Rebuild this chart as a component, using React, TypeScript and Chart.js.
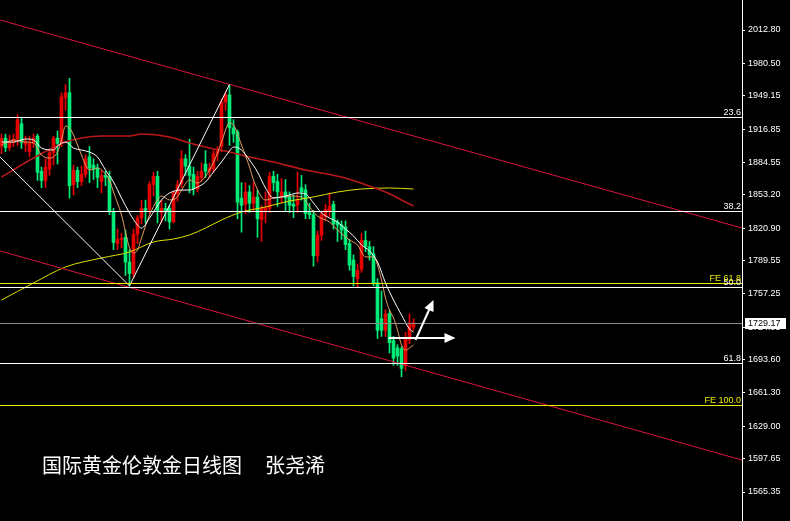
import React, { useEffect, useRef } from "react";
import { Chart, registerables } from "chart.js";
Chart.register(...registerables);

// ---- value range of the price axis ----
const Y_MIN = 1537.27;
const Y_MAX = 2041.86;
const X_MIN = -0.375;
const X_MAX = 185.125;

// ---- daily candles (XAUUSD) ----
const opens = [1900,1908,1899,1904,1907,1922,1902,1895,1903,1910,1876,1867,1878,1894,1908,1903,1947,1952,1863,1877,1866,1873,1890,1882,1879,1866,1872,1871,1837,1806,1810,1812,1788,1777,1815,1831,1840,1839,1863,1871,1836,1840,1840,1827,1854,1864,1888,1881,1873,1859,1870,1883,1876,1878,1893,1900,1943,1950,1918,1914,1850,1844,1856,1845,1851,1829,1838,1840,1871,1866,1852,1856,1851,1844,1843,1860,1858,1836,1834,1794,1814,1832,1838,1844,1827,1824,1822,1806,1790,1772,1781,1809,1803,1796,1768,1733,1722,1738,1712,1705,1704,1688,1713,1725];
const highs = [1912,1912,1911,1912,1931,1928,1910,1910,1912,1912,1880,1888,1897,1910,1915,1952,1960,1966,1882,1880,1881,1892,1900,1888,1883,1877,1876,1876,1840,1820,1816,1819,1800,1820,1833,1848,1848,1866,1875,1876,1848,1845,1843,1857,1867,1896,1892,1907,1880,1876,1884,1896,1884,1896,1900,1946,1953,1960,1926,1916,1865,1865,1862,1865,1858,1843,1856,1875,1876,1873,1869,1868,1856,1853,1875,1872,1863,1845,1838,1818,1837,1844,1855,1847,1829,1828,1828,1810,1795,1786,1816,1818,1808,1803,1772,1760,1742,1741,1716,1708,1706,1720,1738,1733];
const lows = [1893,1895,1896,1900,1901,1898,1895,1890,1899,1867,1860,1860,1872,1882,1883,1900,1935,1850,1853,1860,1862,1870,1865,1868,1860,1855,1862,1834,1800,1800,1802,1775,1765,1773,1806,1825,1826,1835,1852,1826,1826,1828,1820,1826,1847,1860,1872,1855,1853,1856,1866,1870,1870,1875,1886,1895,1935,1901,1904,1830,1817,1835,1836,1837,1812,1808,1826,1836,1857,1842,1846,1838,1836,1831,1836,1848,1830,1830,1784,1788,1809,1828,1832,1820,1808,1810,1800,1780,1765,1763,1778,1798,1790,1765,1714,1716,1716,1700,1688,1688,1677,1683,1709,1722];
const closes = [1908,1899,1904,1907,1926,1904,1905,1903,1908,1875,1867,1880,1894,1908,1903,1948,1952,1862,1877,1866,1873,1888,1879,1878,1870,1872,1870,1837,1807,1810,1811,1788,1777,1815,1831,1840,1838,1863,1871,1838,1840,1838,1827,1855,1863,1888,1881,1872,1859,1871,1876,1876,1879,1893,1896,1943,1950,1918,1912,1846,1843,1856,1845,1851,1830,1840,1841,1871,1865,1856,1856,1850,1843,1842,1848,1856,1835,1834,1794,1814,1834,1839,1842,1825,1824,1819,1805,1785,1774,1780,1809,1803,1795,1768,1722,1722,1738,1710,1695,1697,1685,1715,1729,1729.17];

// ---- moving averages ----
const ma5Idx = [0,3,6,8,10,12,14,15,16,17,18,19,20,21,22,24,26,27,28,30,31,32,33,34,35,37,39,40,42,44,45,47,49,50,52,54,55,57,58,60,62,63,65,66,68,70,72,75,77,79,82,84,87,89,91,93,95,96,97,98,99,100,101,102,103];
const ma5Val = [1901.4,1906.3,1904.3,1903.4,1891.7,1888.8,1894.6,1906.3,1919.8,1917.9,1911.1,1901.4,1891.7,1882.1,1877.2,1879.2,1873.3,1867.5,1855.9,1833.6,1817.2,1801.7,1796.8,1799.7,1811.4,1833.6,1848.2,1852.0,1848.2,1851.1,1857.8,1867.5,1864.6,1866.6,1877.2,1893.7,1904.3,1922.7,1920.8,1901.4,1880.1,1867.5,1851.1,1848.2,1850.1,1851.1,1852.0,1851.1,1841.4,1832.7,1826.8,1819.1,1809.4,1804.6,1793.0,1793.0,1770.7,1753.2,1741.6,1733.9,1722.3,1707.7,1702.9,1704.8,1707.7];
const ma10Idx = [0,3,6,8,10,13,14,16,18,20,22,24,26,28,30,32,34,35,37,40,42,45,47,49,51,53,55,57,58,60,62,64,66,68,70,72,74,76,78,80,82,84,86,88,90,92,94,96,98,100,102,103];
const ma10Val = [1904.3,1904.3,1907.2,1906.3,1898.5,1896.6,1900.5,1904.3,1898.5,1896.6,1894.6,1889.8,1877.2,1865.6,1850.1,1835.6,1823.9,1821.0,1830.7,1848.2,1854.9,1857.8,1857.8,1860.7,1865.6,1875.3,1885.0,1895.6,1899.5,1896.6,1886.9,1875.3,1859.8,1850.1,1851.1,1853.0,1854.9,1854.0,1845.3,1835.6,1830.7,1826.8,1820.1,1813.3,1804.6,1798.8,1788.1,1767.8,1751.3,1736.8,1723.2,1720.3];
const maRedIdx = [0,8,16,20,25,32,35,42,47,52,57,62,68,76,85,92,96,100,103];
const maRedVal = [1870.4,1888.8,1904.3,1908.2,1910.1,1910.1,1912.1,1909.2,1903.4,1898.5,1894.6,1889.8,1885.0,1877.2,1870.4,1861.7,1855.9,1848.2,1842.4];
const maYelIdx = [0,8,16,25,32,38,43,47,51,55,60,66,72,78,84,90,97,103];
const maYelVal = [1751.3,1767.8,1783.3,1792.0,1797.8,1807.5,1810.4,1814.3,1821.0,1828.8,1836.5,1841.4,1847.2,1851.1,1855.9,1858.8,1859.8,1858.8];

// ---- zigzag & channel lines ----
const zigIdx = [-0.375, 32, 57];
const zigVal = [1889.8, 1765, 1960];
const chanIdx = [-0.375, 185.125];
const chanUpperVal = [2022.5, 1821.0];
const chanLowerVal = [1798.8, 1596.3];

// ---- horizontal levels ----
const levelPrices = [1928.3, 1837.5, 1764.2, 1767.5, 1690.0, 1649.6, 1729.17];
const levelLabels = ["23.6", "38.2", "50.0", "FE 61.8", "61.8", "FE 100.0", ""];
const levelColors = ["#ffffff", "#ffffff", "#ffffff", "#ecec00", "#ffffff", "#ecec00", "#8c8c8c"];

// ---- axis ticks ----
const yTickValues = [2045.10, 2012.80, 1980.50, 1949.15, 1916.85, 1884.55, 1853.20, 1820.90, 1789.55, 1757.25, 1724.95, 1693.60, 1661.30, 1629.00, 1597.65, 1565.35];

// ---- arrows: [fromIdx, fromPrice, toIdx, toPrice] ----
const arrowFrom = [[96.75, 1714.5], [103.5, 1712.6]];
const arrowTo = [[113.5, 1714.5], [108, 1751.3]];

const lastPrice = 1729.17;
const titleMain = "国际黄金伦敦金日线图";
const titleAuthor = "张尧浠";

const RED = "#e60000";
const GREEN = "#00ec78";

const pts = (xs: number[], ys: number[]) => xs.map((x, i) => ({ x, y: ys[i] }));

export default function App() {
  const ref = useRef<HTMLCanvasElement>(null);
  useEffect(() => {
    const canvas = ref.current!;
    const idx = closes.map((_, i) => i);
    const colors = idx.map((i) => (closes[i] >= opens[i] ? RED : GREEN));

    const drawArrow = (ctx: CanvasRenderingContext2D, x1: number, y1: number, x2: number, y2: number) => {
      const ang = Math.atan2(y2 - y1, x2 - x1);
      const hl = 11, hw = 5;
      ctx.beginPath();
      ctx.moveTo(x1, y1);
      ctx.lineTo(x2 - (hl - 2) * Math.cos(ang), y2 - (hl - 2) * Math.sin(ang));
      ctx.stroke();
      ctx.beginPath();
      ctx.moveTo(x2, y2);
      ctx.lineTo(x2 - hl * Math.cos(ang) + hw * Math.sin(ang), y2 - hl * Math.sin(ang) - hw * Math.cos(ang));
      ctx.lineTo(x2 - hl * Math.cos(ang) - hw * Math.sin(ang), y2 - hl * Math.sin(ang) + hw * Math.cos(ang));
      ctx.closePath();
      ctx.fill();
    };

    const overlay = {
      id: "overlay",
      afterDatasetsDraw(chart: any) {
        const { ctx, chartArea: a, scales } = chart;
        const xs = scales.x, ys = scales.y;
        ctx.save();
        ctx.lineWidth = 1;
        levelPrices.forEach((p: number, k: number) => {
          const y = Math.round(ys.getPixelForValue(p)) + 0.5;
          ctx.strokeStyle = levelColors[k];
          ctx.beginPath();
          ctx.moveTo(a.left, y);
          ctx.lineTo(a.right, y);
          ctx.stroke();
        });
        ctx.font = "9px 'Liberation Sans'";
        ctx.textAlign = "right";
        ctx.textBaseline = "alphabetic";
        levelPrices.forEach((p: number, k: number) => {
          if (!levelLabels[k]) return;
          const y = Math.round(ys.getPixelForValue(p));
          ctx.fillStyle = levelColors[k];
          ctx.fillText(levelLabels[k], a.right - 1, y - 2);
        });
        ctx.strokeStyle = "#ffffff";
        ctx.fillStyle = "#ffffff";
        ctx.lineWidth = 2;
        arrowFrom.forEach((f, k) => {
          const t = arrowTo[k];
          drawArrow(ctx, xs.getPixelForValue(f[0]), ys.getPixelForValue(f[1]), xs.getPixelForValue(t[0]), ys.getPixelForValue(t[1]));
        });
        ctx.fillStyle = "#ffffff";
        ctx.font = "20px 'Noto Sans CJK SC'";
        ctx.textAlign = "left";
        ctx.textBaseline = "middle";
        ctx.fillText(titleMain, a.left + 42, 465);
        ctx.fillText(titleAuthor, a.left + 265, 465);
        ctx.restore();
      },
      afterDraw(chart: any) {
        const { ctx, chartArea: a, scales } = chart;
        const y = Math.round(scales.y.getPixelForValue(lastPrice));
        ctx.save();
        ctx.fillStyle = "#ffffff";
        ctx.fillRect(a.right + 3, y - 5, 41, 11);
        ctx.fillStyle = "#000000";
        ctx.font = "9px 'Liberation Sans'";
        ctx.textAlign = "left";
        ctx.textBaseline = "middle";
        ctx.fillText(lastPrice.toFixed(2), a.right + 6, y + 0.5);
        ctx.restore();
      },
    };

    const lineBase = { type: "line" as const, pointRadius: 0, borderWidth: 1, fill: false };

    const chart = new Chart(canvas, {
      type: "bar",
      data: {
        datasets: [
          {
            type: "bar",
            data: idx.map((i) => ({ x: i, y: [lows[i], highs[i]] })) as any,
            backgroundColor: colors,
            barThickness: 1,
            grouped: false,
            borderWidth: 0,
            order: 11,
          } as any,
          {
            type: "bar",
            data: idx.map((i) => ({ x: i, y: [opens[i], closes[i]] })) as any,
            backgroundColor: colors,
            barThickness: 3,
            minBarLength: 1,
            grouped: false,
            borderWidth: 0,
            order: 10,
          } as any,
          { ...lineBase, data: pts(maYelIdx, maYelVal), borderColor: "#e2e200", cubicInterpolationMode: "monotone", order: 6 } as any,
          { ...lineBase, data: pts(maRedIdx, maRedVal), borderColor: "#b81818", borderWidth: 1.6, cubicInterpolationMode: "monotone", order: 5 } as any,
          { ...lineBase, data: pts(chanIdx, chanUpperVal), borderColor: "#dc143c", order: 4 } as any,
          { ...lineBase, data: pts(chanIdx, chanLowerVal), borderColor: "#dc143c", order: 4 } as any,
          { ...lineBase, data: pts(ma5Idx, ma5Val), borderColor: "#e6a064", cubicInterpolationMode: "monotone", order: 3 } as any,
          { ...lineBase, data: pts(ma10Idx, ma10Val), borderColor: "#ffffff", cubicInterpolationMode: "monotone", order: 2 } as any,
          { ...lineBase, data: pts(zigIdx, zigVal), borderColor: "#ffffff", order: 1 } as any,
        ],
      },
      options: {
        responsive: false,
        animation: false,
        devicePixelRatio: 1,
        layout: { padding: 0 },
        plugins: { legend: { display: false }, tooltip: { enabled: false } },
        scales: {
          x: { type: "linear", display: false, min: X_MIN, max: X_MAX, offset: false, grid: { display: false } },
          y: {
            type: "linear",
            position: "right",
            min: Y_MIN,
            max: Y_MAX,
            afterBuildTicks: (scale: any) => {
              scale.ticks = yTickValues.map((v) => ({ value: v }));
            },
            afterFit: (scale: any) => {
              scale.width = 48;
              scale.paddingTop = 0;
              scale.paddingBottom = 0;
            },
            grid: { drawOnChartArea: false, drawTicks: true, tickLength: 3, color: "#ffffff" },
            border: { display: true, color: "#ffffff", width: 1 },
            ticks: {
              color: "#ffffff",
              autoSkip: false,
              padding: 3,
              font: { family: "'Liberation Sans'", size: 9 },
              callback: (v: any) => Number(v).toFixed(2),
            },
          },
        },
      } as any,
      plugins: [overlay],
    });
    return () => chart.destroy();
  }, []);
  return (
    <div style={{ position: "fixed", left: 0, top: 0, width: 790, height: 521, background: "#000" }}>
      <canvas ref={ref} width={790} height={521} style={{ display: "block" }} />
    </div>
  );
}
